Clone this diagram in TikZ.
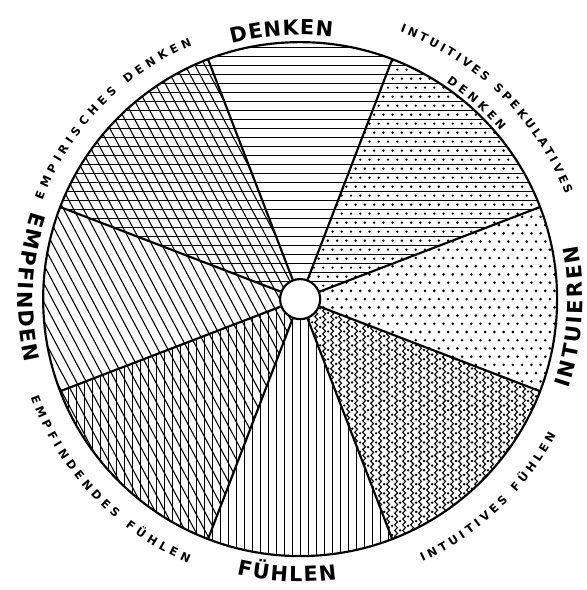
\documentclass[tikz,border=0pt]{standalone}
\usepackage{fontspec}
\setsansfont{DejaVu Sans}
\usepackage{tikz}
\usetikzlibrary{decorations.text, decorations.pathmorphing}

\newcommand{\lblbig}{\sffamily\bfseries\fontsize{11.5}{13}\selectfont}
\newcommand{\lblsmall}{\sffamily\bfseries\fontsize{6.4}{7.5}\selectfont}

\tikzset{
  rim/.style={line width=1.2pt},
  hatch/.style={line width=0.6pt},
  wavy/.style={hatch, decorate, decoration={snake, amplitude=0.8pt, segment length=3.2pt}},
  arclabel/.style={decorate, decoration={text along path, text={#1}, text align={fit to path}}}
}

\begin{document}
\begin{tikzpicture}
\useasboundingbox (-5.84,-5.66) rectangle (5.58,5.82);
\coordinate (c) at (0,0);

% denken
\begin{scope}
\clip (c) -- (69:5) arc[start angle=69, end angle=111, radius=5] -- cycle;
\foreach \k in {0,...,29} \draw[hatch] (-3,\k*0.1751) -- (3,\k*0.1751);
\end{scope}

% empirisches denken
\begin{scope}
\clip (c) -- (111:5) arc[start angle=111, end angle=159, radius=5] -- cycle;
\foreach \k in {0,...,29} \draw[hatch] (-5.2,\k*0.1751) -- (0.2,\k*0.1751);
\foreach \s in {-8,-7.83,...,8} \draw[hatch, rotate=28] (\s,-8) -- (\s,8);
\end{scope}

% empfinden
\begin{scope}
\clip (c) -- (159:5) arc[start angle=159, end angle=201, radius=5] -- cycle;
\foreach \s in {-8,-7.83,...,8} \draw[hatch, rotate=28] (\s,-8) -- (\s,8);
\end{scope}

% empfindendes fuehlen
\begin{scope}
\clip (c) -- (201:5) arc[start angle=201, end angle=249, radius=5] -- cycle;
\foreach \s in {-8,-7.83,...,8} \draw[hatch, rotate=28] (\s,-8) -- (\s,8);
\foreach \k in {-34,...,1} \draw[hatch] (\k*0.1556,-5.2) -- (\k*0.1556,0.2);
\end{scope}

% fuehlen
\begin{scope}
\clip (c) -- (249:5) arc[start angle=249, end angle=291, radius=5] -- cycle;
\foreach \k in {-14,...,14} \draw[hatch] (\k*0.1556,-5.2) -- (\k*0.1556,0.2);
\end{scope}

% intuitives fuehlen
\begin{scope}
\clip (c) -- (291:5) arc[start angle=291, end angle=339, radius=5] -- cycle;
\foreach \i in {0,...,32} {
  \draw[wavy] (\i*0.1556,0.2) -- (\i*0.1556,-5.2);
  \foreach \j in {0,...,28}
    \fill ({(\i+0.5)*0.1556},{-\j*0.18-mod(\i,2)*0.09}) circle(0.026);
}
\end{scope}

% intuieren
\begin{scope}
\clip (c) -- (-21:5) arc[start angle=-21, end angle=21, radius=5] -- cycle;
\foreach \i in {0,...,28}
  \foreach \j in {0,...,24}
    \fill ({\i*0.18+mod(\j,2)*0.09},{(\j-12)*0.16}) circle(0.028);
\end{scope}

% intuitives spekulatives denken
\begin{scope}
\clip (c) -- (21:5) arc[start angle=21, end angle=69, radius=5] -- cycle;
\foreach \k in {0,...,29} {
  \draw[hatch] (-0.2,\k*0.1751) -- (5.2,\k*0.1751);
  \foreach \i in {0,...,30}
    \fill ({\i*0.18+mod(\k,2)*0.09},{(\k+0.5)*0.1751}) circle(0.026);
}
\end{scope}

% rim, hub and spokes
\draw[rim] (c) circle(5);
\node[circle, draw, rim, fill=white, minimum size=0.78cm, inner sep=0pt] (hub) at (c) {};
\foreach \a in {21,69,111,159,201,249,291,339}
  \draw[rim] (hub.\a) -- (\a:5);

% labels
\path[arclabel={|\lblbig|DENKEN}] (105:5.14) arc[start angle=105, end angle=83, radius=5.14];
\path[arclabel={|\lblbig|FÜHLEN}] (257:5.5) arc[start angle=257, end angle=277.5, radius=5.5];
\path[arclabel={|\lblbig|EMPFINDEN}] (162:5.49) arc[start angle=162, end angle=193, radius=5.49];
\path[arclabel={|\lblbig|INTUIEREN}] (-18.5:5.5) arc[start angle=-18.5, end angle=11, radius=5.5];
\path[arclabel={|\lblsmall|EMPIRISCHES DENKEN}] (159:5.37) arc[start angle=159, end angle=113, radius=5.37];
\path[arclabel={|\lblsmall|INTUITIVES SPEKULATIVES}] (69.5:5.55) arc[start angle=69.5, end angle=21.5, radius=5.55];
\path[arclabel={|\lblsmall|DENKEN}] (56:5.09) arc[start angle=56, end angle=40, radius=5.09];
\path[arclabel={|\lblsmall|EMPFINDENDES FÜHLEN}] (200:5.58) arc[start angle=200, end angle=247, radius=5.58];
\path[arclabel={|\lblsmall|INTUITIVES FÜHLEN}] (295:5.64) arc[start angle=295, end angle=332, radius=5.64];
\end{tikzpicture}
\end{document}
